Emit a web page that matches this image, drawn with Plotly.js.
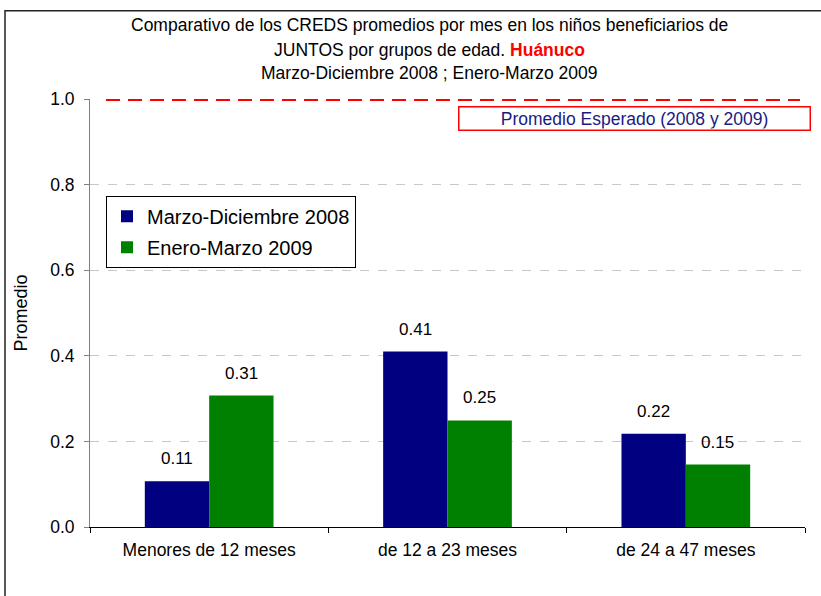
<!DOCTYPE html>
<html>
<head>
<meta charset="utf-8">
<script src="https://cdn.plot.ly/plotly-3.0.1.min.js"></script>
<style>html,body{margin:0;padding:0;background:#fff;}#chart{width:821px;height:596px;}</style>
</head>
<body>
<div id="chart"></div>
<script>
var categories = ['Menores de 12 meses', 'de 12 a 23 meses', 'de 24 a 47 meses'];
var seriesNames = ['Marzo-Diciembre 2008', 'Enero-Marzo 2009'];
var values2008 = [0.107, 0.41, 0.218];
var values2009 = [0.307, 0.249, 0.146];
var expectedValue = 1.0;
var expectedLabel = 'Promedio Esperado (2008 y 2009)';
var yTickVals = [0, 0.2, 0.4, 0.6, 0.8, 1.0];
var yTickText = ['0.0', '0.2', '0.4', '0.6', '0.8', '1.0'];
var titleLines = [
  'Comparativo de los CREDS promedios por mes en los niños beneficiarios de',
  'JUNTOS por grupos de edad. <span style="color:#ff0000"><b>Huánuco</b></span>',
  'Marzo-Diciembre 2008 ; Enero-Marzo 2009'
];
var yTitle = 'Promedio';

var FONT = 'Liberation Sans, Arial, sans-serif';

var traces = [
  {type: 'bar', name: seriesNames[0], x: categories, y: values2008,
   marker: {color: '#000080', line: {width: 0}}, legendgroup: 'a', hoverinfo: 'x+y'},
  {type: 'bar', name: seriesNames[1], x: categories, y: values2009,
   marker: {color: '#008000', line: {width: 0}}, legendgroup: 'b', hoverinfo: 'x+y'}
];

var annotations = [];
// Title lines
var titleY = [25, 50, 73];
titleLines.forEach(function (t, i) {
  annotations.push({text: t, xref: 'paper', yref: 'paper', x: 0.475,
    y: (527.3 - titleY[i]) / 428, xanchor: 'center', yanchor: 'middle',
    showarrow: false, font: {family: FONT, size: 17.5, color: '#000'}});
});
// Value labels
[values2008, values2009].forEach(function (vals, s) {
  vals.forEach(function (v, i) {
    annotations.push({text: v.toFixed(2), x: categories[i], y: v, xref: 'x', yref: 'y',
      xshift: s === 0 ? -32 : 32, yshift: 11, yanchor: 'bottom', showarrow: false,
      font: {family: FONT, size: 17, color: '#000'}});
  });
});
// Expected label box
annotations.push({text: expectedLabel, xref: 'paper', yref: 'y', x: (634 - 90) / 715,
  y: 0.955, xanchor: 'center', yanchor: 'middle', showarrow: false,
  width: 348, height: 20, bordercolor: '#ff0000', borderwidth: 1.5, borderpad: 1,
  bgcolor: '#ffffff', font: {family: FONT, size: 17.5, color: '#1a1a80'}});

var layout = {
  width: 821, height: 596,
  margin: {l: 90, r: 16, t: 99, b: 69, pad: 0},
  paper_bgcolor: '#ffffff', plot_bgcolor: '#ffffff',
  font: {family: FONT, size: 17, color: '#000'},
  barmode: 'group', bargap: 0.46, bargroupgap: 0,
  showlegend: true,
  legend: {x: (106 - 90) / 715, y: (527.3 - 196) / 428, xanchor: 'left', yanchor: 'top',
    bgcolor: '#ffffff', bordercolor: '#000000', borderwidth: 1,
    font: {family: FONT, size: 20, color: '#000'}, traceorder: 'grouped', tracegroupgap: 2,
    itemwidth: 30},
  xaxis: {type: 'category', showline: true, linecolor: '#000', linewidth: 1,
    ticks: 'outside', ticklen: 5, tickcolor: '#000', tickson: 'boundaries',
    showgrid: false, tickfont: {family: FONT, size: 17.5, color: '#000'},
    ticklabelstandoff: 7, fixedrange: true},
  yaxis: {range: [0, 1.0], tickvals: yTickVals, ticktext: yTickText,
    showline: true, linecolor: '#808080', linewidth: 1,
    ticks: 'outside', ticklen: 5, tickcolor: '#808080',
    showgrid: true, gridcolor: '#c8c8c8', griddash: 'dash', gridwidth: 1,
    zeroline: false, tickfont: {family: FONT, size: 17.5, color: '#000'},
    ticklabelstandoff: 6,
    title: {text: yTitle, font: {family: FONT, size: 18, color: '#000'}, standoff: 17},
    fixedrange: true},
  shapes: [
    {type: 'line', xref: 'paper', yref: 'y', x0: (106 - 90) / 715, x1: (800 - 90) / 715,
     y0: expectedValue, y1: expectedValue, line: {color: '#ff0000', width: 4, dash: '14px,8px'},
     layer: 'above'},
    {type: 'rect', xref: 'paper', yref: 'paper', x0: (5 - 90) / 715, x1: (835 - 90) / 715,
     y0: (527.3 - 620) / 428, y1: (527.3 - 11) / 428, line: {color: '#222', width: 1.5},
     fillcolor: 'rgba(0,0,0,0)', layer: 'below'}
  ],
  annotations: annotations
};

Plotly.newPlot('chart', traces, layout, {displayModeBar: false, staticPlot: true});
</script>
</body>
</html>
